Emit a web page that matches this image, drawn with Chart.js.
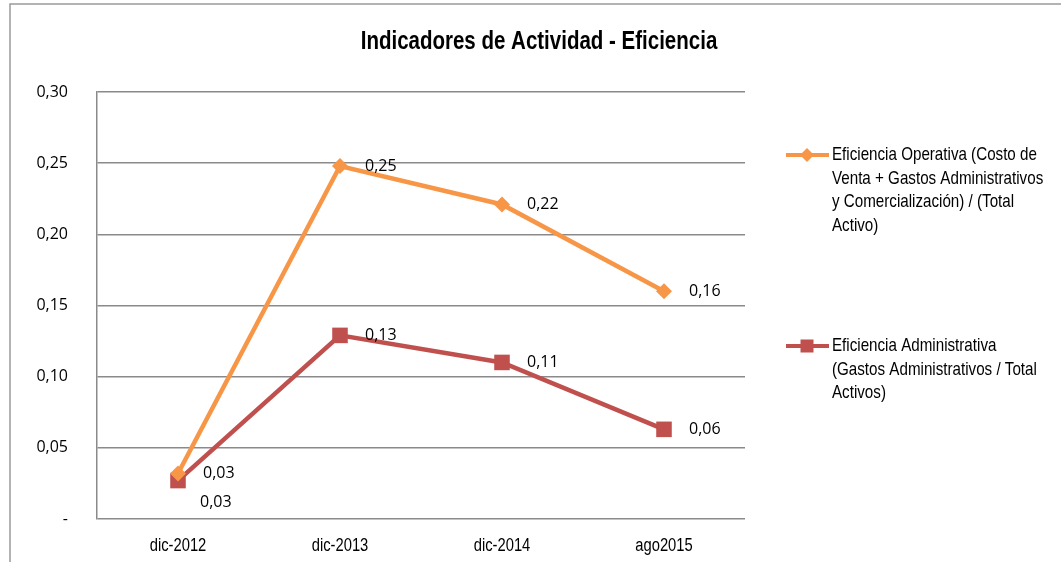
<!DOCTYPE html>
<html>
<head>
<meta charset="utf-8">
<script src="https://cdn.jsdelivr.net/npm/chart.js@4"></script>
<style>
  html, body { margin: 0; padding: 0; background: #fff; }
  #wrap { position: relative; width: 1061px; height: 562px; }
</style>
</head>
<body>
<div id="wrap"><canvas id="c" width="1061" height="562"></canvas></div>
<script>
const chartTitle = 'Indicadores de Actividad - Eficiencia';
const categories = ['dic-2012', 'dic-2013', 'dic-2014', 'ago2015'];
const operativaValues = [0.032, 0.248, 0.221, 0.160];
const administrativaValues = [0.027, 0.129, 0.110, 0.063];
const operativaLegend = ['Eficiencia Operativa (Costo de', 'Venta + Gastos Administrativos', 'y Comercialización) / (Total', 'Activo)'];
const administrativaLegend = ['Eficiencia Administrativa', '(Gastos Administrativos / Total', 'Activos)'];
const yTicks = [0, 0.05, 0.10, 0.15, 0.20, 0.25, 0.30];

const SANS = "'Liberation Sans', Arial, sans-serif";
const NUMFONT = "'Open Sans', 'Liberation Sans', sans-serif";
const NARROW_SCALE = 0.82;
const ORANGE = '#F79646';
const RED = '#C0504D';
const GRID = '#8a8a8a';

const fmt = v => v.toFixed(2).replace('.', ',');

function narrowText(ctx, text, x, y, align) {
  ctx.save();
  ctx.translate(x, y);
  ctx.scale(NARROW_SCALE, 1);
  ctx.textAlign = align;
  ctx.fillText(text, 0, 0);
  ctx.restore();
}

const framePlugin = {
  id: 'frame',
  beforeDraw(chart) {
    const ctx = chart.ctx;
    ctx.save();
    ctx.fillStyle = '#fff';
    ctx.fillRect(0, 0, chart.width, chart.height);
    ctx.strokeStyle = '#9a9a9a';
    ctx.lineWidth = 1.5;
    ctx.beginPath();
    ctx.moveTo(10, chart.height);
    ctx.lineTo(10, 4);
    ctx.lineTo(chart.width, 4);
    ctx.stroke();
    ctx.fillStyle = '#000';
    ctx.font = 'bold 25px ' + SANS;
    ctx.textBaseline = 'middle';
    narrowText(ctx, chartTitle, 539, 42, 'center');
    ctx.restore();
  },
  afterDraw(chart) {
    const ctx = chart.ctx;
    const xs = chart.scales.x;
    ctx.save();
    ctx.fillStyle = '#000';
    ctx.font = '18px ' + SANS;
    ctx.textBaseline = 'middle';
    categories.forEach((c, i) => narrowText(ctx, c, xs.getPixelForValue(i), 546, 'center'));
    ctx.restore();
  }
};

function drawMarker(ctx, style, x, y, color) {
  ctx.fillStyle = color;
  if (style === 'rectRot') {
    const r = 7;
    ctx.beginPath();
    ctx.moveTo(x, y - r); ctx.lineTo(x + r, y); ctx.lineTo(x, y + r); ctx.lineTo(x - r, y);
    ctx.closePath(); ctx.fill();
  } else {
    const h = 6.5;
    ctx.fillRect(x - h, y - h, 2 * h, 2 * h);
  }
}

const legendPlugin = {
  id: 'customLegend',
  afterDraw(chart) {
    const ctx = chart.ctx;
    ctx.save();
    const items = [
      { lines: operativaLegend, color: ORANGE, style: 'rectRot', y: 155 },
      { lines: administrativaLegend, color: RED, style: 'rect', y: 346 }
    ];
    ctx.font = '18.5px ' + SANS;
    ctx.textBaseline = 'middle';
    items.forEach(it => {
      ctx.strokeStyle = it.color;
      ctx.lineWidth = 4;
      ctx.beginPath();
      ctx.moveTo(786, it.y); ctx.lineTo(829, it.y);
      ctx.stroke();
      drawMarker(ctx, it.style, 807, it.y, it.color);
      ctx.fillStyle = '#000';
      it.lines.forEach((t, i) => narrowText(ctx, t, 832, it.y + i * 23.5, 'left'));
    });
    ctx.restore();
  }
};

const labelPlugin = {
  id: 'valueLabels',
  afterDatasetsDraw(chart) {
    const ctx = chart.ctx;
    ctx.save();
    ctx.font = '16px ' + NUMFONT;
    ctx.fillStyle = '#000';
    ctx.textBaseline = 'middle';
    ctx.textAlign = 'left';
    const boxes = [];
    chart.data.datasets.forEach((ds, di) => {
      const meta = chart.getDatasetMeta(di);
      meta.data.forEach((pt, i) => {
        const txt = fmt(ds.data[i]);
        const w = ctx.measureText(txt).width;
        let x = pt.x + 25, y = pt.y;
        const overlaps = b => !(x + w < b.x || x > b.x + b.w || y + 9 < b.y - 9 || y - 9 > b.y + 9);
        if (boxes.some(overlaps)) { x = pt.x + 22; y = pt.y + 22; }
        boxes.push({ x, y, w });
        ctx.fillText(txt, x, y);
      });
    });
    ctx.restore();
  }
};

new Chart(document.getElementById('c'), {
  type: 'line',
  data: {
    labels: categories,
    datasets: [
      {
        label: operativaLegend.join(' '),
        data: operativaValues,
        borderColor: ORANGE,
        backgroundColor: ORANGE,
        borderWidth: 4.5,
        pointStyle: 'rectRot',
        pointRadius: 8,
        pointHoverRadius: 8,
        pointBorderWidth: 0,
        tension: 0
      },
      {
        label: administrativaLegend.join(' '),
        data: administrativaValues,
        borderColor: RED,
        backgroundColor: RED,
        borderWidth: 4.5,
        pointStyle: 'rect',
        pointRadius: 11,
        pointHoverRadius: 11,
        pointBorderWidth: 0,
        tension: 0
      }
    ]
  },
  options: {
    responsive: false,
    animation: false,
    events: [],
    layout: { padding: { left: 10, right: 316, top: 92, bottom: 0 } },
    plugins: {
      legend: { display: false },
      title: { display: false },
      tooltip: { enabled: false }
    },
    scales: {
      x: {
        type: 'category',
        offset: true,
        grid: { display: false, drawTicks: false },
        border: { display: false },
        ticks: { display: false },
        afterFit: s => { s.height = 43; }
      },
      y: {
        min: 0, max: 0.30,
        afterBuildTicks: s => { s.ticks = yTicks.map(v => ({ value: v })); },
        grid: { color: GRID, lineWidth: 1.5, drawTicks: false },
        border: { display: true, color: GRID, width: 1.5 },
        ticks: {
          color: '#000',
          font: { family: NUMFONT, size: 16 },
          padding: 29,
          callback: v => v === 0 ? '-' : fmt(v)
        },
        afterFit: s => { s.width = 87; }
      }
    }
  },
  plugins: [framePlugin, legendPlugin, labelPlugin]
});
</script>
</body>
</html>
